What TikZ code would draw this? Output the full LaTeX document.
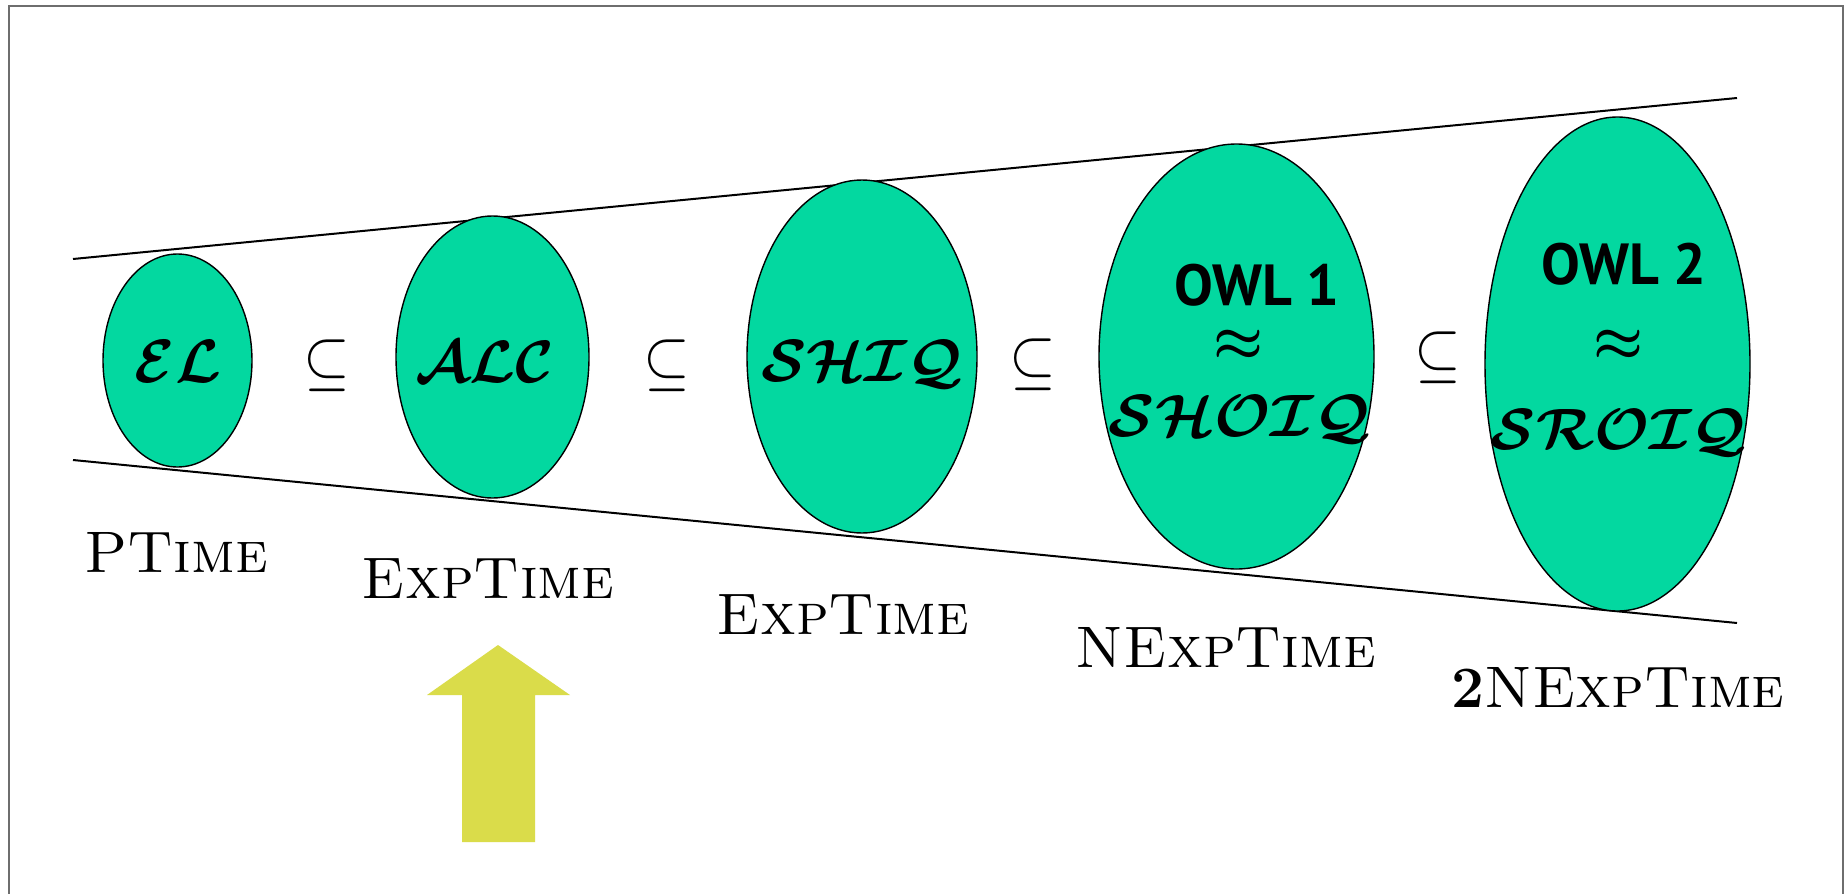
\documentclass[tikz,border=0pt]{standalone}
\usepackage{amsmath}
\usepackage{bm}
\usepackage{fontspec}
\newfontfamily\owlfont{PT Sans}
\usetikzlibrary{shapes.geometric}
\definecolor{blobgreen}{RGB}{3,216,160}
\definecolor{arrowyellow}{RGB}{218,220,74}
\definecolor{framegray}{RGB}{110,110,110}
% bold calligraphic names of description logics, set to a given width and cap height
\newcommand{\dlname}[3]{\resizebox{#1}{#2}{$\bm{\mathcal{#3}}$}}
\newcommand{\incl}{\scalebox{3}[3.35]{$\subseteq$}}
\newcommand{\aeq}{\resizebox{25pt}{!}{$\bm{\approx}$}}
\begin{document}
\begin{tikzpicture}[x=0.5pt,y=-0.5pt,
  blob/.style={ellipse, draw=black, line width=0.7pt, fill=blobgreen, inner sep=0pt},
  dl/.style={anchor=base, inner sep=0pt},
  owl/.style={font=\owlfont\bfseries\fontsize{29}{34}\selectfont, anchor=base, inner sep=0pt},
  rel/.style={inner sep=0pt},
  cx/.style={font=\fontsize{29.3}{35}\selectfont, anchor=base, inner sep=0pt},
  boundary/.style={line width=1pt, black}
]
\useasboundingbox (0,0) rectangle (1847,894);
\fill[white] (0,0) rectangle (1847,894);
% frame
\draw[framegray, line width=1pt] (9,894) -- (9,6) -- (1843,6) -- (1843,894);

% widening funnel
\coordinate (tl) at (73,259);
\coordinate (tr) at (1737,98);
\coordinate (bl) at (73,460);
\coordinate (br) at (1737,623);
\draw[boundary] (tl) -- (tr);
\draw[boundary] (bl) -- (br);

% logics
\node[blob, minimum width=74.5pt, minimum height=106.5pt] (el) at (177.5,360.5) {};
\node[blob, minimum width=96.5pt, minimum height=141pt] (alc) at (492.5,357) {};
\node[blob, minimum width=115pt, minimum height=176.5pt] (shiq) at (862,356.5) {};
\node[blob, minimum width=137.5pt, minimum height=212.5pt] (owla) at (1236.5,356.5) {};
\node[blob, minimum width=132.5pt, minimum height=247pt] (owlb) at (1617.5,364) {};

\node[dl] (elt) at (178,382) {\dlname{43pt}{21pt}{EL}};
\node[dl] (alct) at (485,382) {\dlname{69pt}{20.5pt}{ALC}};
\node[dl] (shiqt) at (862,381) {\dlname{101pt}{20.5pt}{SHIQ}};

\node[owl] (owlat) at (1257,305) {OWL 1};
\node[rel] (owlaeq) at (1238,346) {\aeq};
\node[dl] (shoiqt) at (1240,436) {\dlname{131pt}{20.5pt}{SHOIQ}};

\node[owl] (owlbt) at (1624,284) {OWL 2};
\node[rel] (owlbeq) at (1618,346) {\aeq};
\node[dl] (sroiqt) at (1619,449) {\dlname{128pt}{20pt}{SROIQ}};

% inclusions
\node[rel] (s1) at (327,366) {\incl};
\node[rel] (s2) at (667,366) {\incl};
\node[rel] (s3) at (1033,365) {\incl};
\node[rel] (s4) at (1438,358) {\incl};

% complexities
\node[cx] (c1) at (176,572) {\textsc{PTime}};
\node[cx] (c2) at (488,598) {\textsc{ExpTime}};
\node[cx] (c3) at (843,634) {\textsc{ExpTime}};
\node[cx] (c4) at (1226,667) {\textsc{NExpTime}};
\node[cx] (c5) at (1618,707) {\textbf{2}\textsc{NExpTime}};

% pointer
\fill[arrowyellow] (462,842) -- (462,695) -- (427,695) -- (498,645) -- (570,695) -- (535,695) -- (535,842) -- cycle;
\end{tikzpicture}
\end{document}
